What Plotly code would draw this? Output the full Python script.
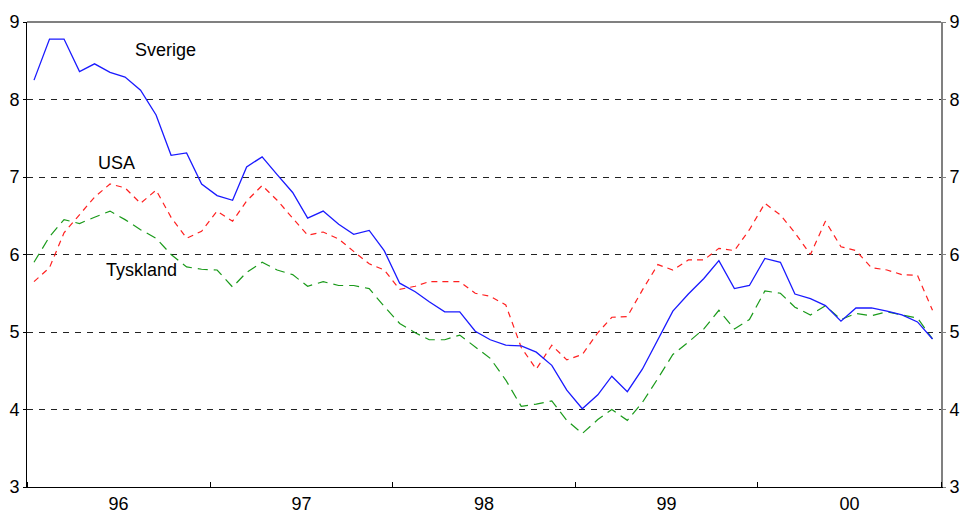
import plotly.graph_objects as go
import pandas as pd

months = pd.date_range("1996-01-01", periods=60, freq="MS") + pd.Timedelta(days=14)

sverige = [8.25, 8.78, 8.78, 8.36, 8.46, 8.35, 8.29, 8.12, 7.80, 7.28, 7.31, 6.91,
           6.76, 6.70, 7.13, 7.26, 7.03, 6.80, 6.47, 6.56, 6.39, 6.26, 6.31, 6.05,
           5.63, 5.52, 5.39, 5.26, 5.26, 5.01, 4.90, 4.83, 4.82, 4.74, 4.57, 4.25,
           4.01, 4.19, 4.43, 4.23, 4.52, 4.90, 5.27, 5.49, 5.69, 5.92, 5.56, 5.60,
           5.95, 5.90, 5.49, 5.43, 5.34, 5.14, 5.31, 5.31, 5.27, 5.22, 5.13, 4.91]

usa = [5.65, 5.83, 6.28, 6.51, 6.74, 6.91, 6.86, 6.66, 6.83, 6.48, 6.21, 6.30,
       6.56, 6.43, 6.69, 6.89, 6.70, 6.47, 6.25, 6.29, 6.20, 6.04, 5.88, 5.80,
       5.55, 5.59, 5.65, 5.65, 5.65, 5.50, 5.46, 5.35, 4.80, 4.52, 4.83, 4.64,
       4.71, 4.99, 5.19, 5.20, 5.54, 5.87, 5.80, 5.93, 5.93, 6.08, 6.05, 6.32,
       6.66, 6.51, 6.28, 6.00, 6.43, 6.10, 6.05, 5.83, 5.80, 5.74, 5.73, 5.28]

tyskland = [5.90, 6.23, 6.45, 6.40, 6.48, 6.56, 6.45, 6.32, 6.21, 6.00, 5.84, 5.81,
            5.80, 5.58, 5.77, 5.90, 5.80, 5.74, 5.59, 5.65, 5.60, 5.60, 5.56, 5.33,
            5.11, 4.99, 4.90, 4.90, 4.96, 4.81, 4.66, 4.38, 4.04, 4.07, 4.11, 3.86,
            3.69, 3.87, 4.00, 3.86, 4.09, 4.40, 4.71, 4.87, 5.04, 5.28, 5.04, 5.16,
            5.53, 5.50, 5.32, 5.22, 5.34, 5.16, 5.24, 5.21, 5.26, 5.22, 5.18, 4.91]

y_ticks = [3, 4, 5, 6, 7, 8, 9]
series_names = ["Sverige", "USA", "Tyskland"]

FONT = "Liberation Sans, Arial, sans-serif"

fig = go.Figure()
fig.add_trace(go.Scatter(x=months, y=usa, mode="lines", name=series_names[1],
                         line=dict(color="#ff2020", width=1.2, dash="6px,5px")))
fig.add_trace(go.Scatter(x=months, y=tyskland, mode="lines", name=series_names[2],
                         line=dict(color="#1a9a1a", width=1.2, dash="10px,6px")))
fig.add_trace(go.Scatter(x=months, y=sverige, mode="lines", name=series_names[0],
                         line=dict(color="#1a1aff", width=1.3)))
# invisible trace to carry the right-hand axis
fig.add_trace(go.Scatter(x=months, y=sverige, mode="lines", yaxis="y2",
                         line=dict(width=0), opacity=0, showlegend=False, hoverinfo="skip"))

fig.update_layout(
    width=967, height=518,
    margin=dict(l=27, r=26, t=22, b=31, autoexpand=False),
    paper_bgcolor="white", plot_bgcolor="white",
    showlegend=False,
    font=dict(family=FONT, size=18, color="black"),
    xaxis=dict(
        type="date", automargin=False,
        range=["1996-01-01", "2001-01-01"],
        dtick="M12", tick0="1996-01-01",
        ticklabelmode="period", tickformat="%y",
        ticks="inside", ticklen=5, tickcolor="black",
        showline=True, linecolor="black", linewidth=1,
        showgrid=False, zeroline=False,
        tickfont=dict(size=18),
    ),
    yaxis=dict(
        automargin=False,
        range=[3, 9], tickvals=y_ticks, ticktext=[str(v) for v in y_ticks],
        ticks="outside", ticklen=3, tickcolor="black",
        showline=True, linecolor="black", linewidth=1,
        showgrid=True, gridcolor="#222222", gridwidth=1, griddash="6px,6px",
        zeroline=False, tickfont=dict(size=18),
    ),
    yaxis2=dict(
        automargin=False,
        range=[3, 9], tickvals=y_ticks, ticktext=[str(v) for v in y_ticks],
        overlaying="y", side="right",
        ticks="outside", ticklen=3, tickcolor="#808080",
        showline=True, linecolor="#808080", linewidth=2,
        showgrid=False, zeroline=False, tickfont=dict(size=18),
    ),
    shapes=[dict(type="line", xref="paper", yref="paper", x0=0, x1=1, y0=1, y1=1,
                 line=dict(color="#808080", width=2))],
    annotations=[
        dict(x="1996-10-03", y=8.64, text="Sverige", showarrow=False,
             font=dict(size=18, family=FONT)),
        dict(x="1996-06-27", y=7.18, text="USA", showarrow=False,
             font=dict(size=18, family=FONT)),
        dict(x="1996-08-16", y=5.80, text="Tyskland", showarrow=False,
             font=dict(size=18, family=FONT)),
    ],
)

fig.write_html(
    "out.html",
    config={"displayModeBar": False},
    post_script="document.body.style.margin='0';document.body.style.overflow='hidden';",
)
